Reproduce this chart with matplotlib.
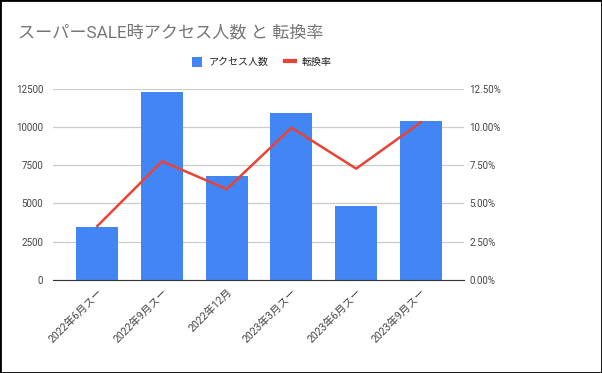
import matplotlib.pyplot as plt
from matplotlib.ticker import FuncFormatter

plt.rcParams['font.family'] = ['Roboto', 'Noto Sans CJK JP', 'DejaVu Sans']

categories = ["2022年6月スー", "2022年9月スー", "2022年12月", "2023年3月スー", "2023年6月スー", "2023年9月スー"]
access = [3450, 12300, 6800, 10900, 4830, 10400]
cvr = [3.52, 7.76, 5.94, 9.96, 7.28, 10.32]
left_ticks = [0, 2500, 5000, 7500, 10000, 12500]
right_ticks = [0, 2.5, 5, 7.5, 10, 12.5]

fig = plt.figure(figsize=(6.02, 3.73), dpi=100)
ax = fig.add_axes([53 / 602, 1 - 279.7 / 373, 410.6 / 602, 190.7 / 373])

x = range(len(categories))
bars = ax.bar(x, access, width=0.65, color="#4285f4", zorder=2, label="アクセス人数")
ax.set_xlim(-0.685, 5.66)
ax.set_ylim(0, 12500)
ax.set_yticks(left_ticks)
ax.grid(axis="y", color="#cccccc", linewidth=0.9, zorder=0)
for s in ["top", "right", "left"]:
    ax.spines[s].set_visible(False)
ax.spines["bottom"].set_color("#333333")
ax.spines["bottom"].set_zorder(3)
ax.tick_params(axis="both", length=0, labelsize=7, colors="#444444")
ax.tick_params(axis="y", pad=7)
ax.tick_params(axis="x", labelsize=7.6, pad=5)
ax.set_xticks(list(x))
ax.set_xticklabels(categories, rotation=45, ha="right", rotation_mode="anchor")

ax2 = ax.twinx()
line, = ax2.plot(x, cvr, color="#ea4335", linewidth=1.8, zorder=3, label="転換率")
ax2.set_ylim(0, 12.5)
ax2.set_yticks(right_ticks)
ax2.yaxis.set_major_formatter(FuncFormatter(lambda v, p: f"{v:.2f}%"))
for s in ax2.spines.values():
    s.set_visible(False)
ax2.tick_params(axis="y", length=0, labelsize=7, colors="#444444", pad=4.3)

fig.text(18 / 602, 1 - 33 / 373, "スーパーSALE時アクセス人数 と 転換率", fontsize=12.3,
         color="#757575", va="center")
leg = fig.legend(handles=[bars, line], loc="center", bbox_to_anchor=(262 / 602, 1 - 62 / 373),
                 ncol=2, frameon=False, fontsize=7.2, handlelength=1.0, handleheight=1.1,
                 columnspacing=1.6, handletextpad=0.7)
for t in leg.get_texts():
    t.set_color("#222222")
leg.get_lines()[0].set_linewidth(3) if leg.get_lines() else None

fig.patches.append(plt.Rectangle((0, 0), 1, 1, transform=fig.transFigure, fill=False,
                                 edgecolor="black", linewidth=2))
fig.savefig("out.png", dpi=100)
